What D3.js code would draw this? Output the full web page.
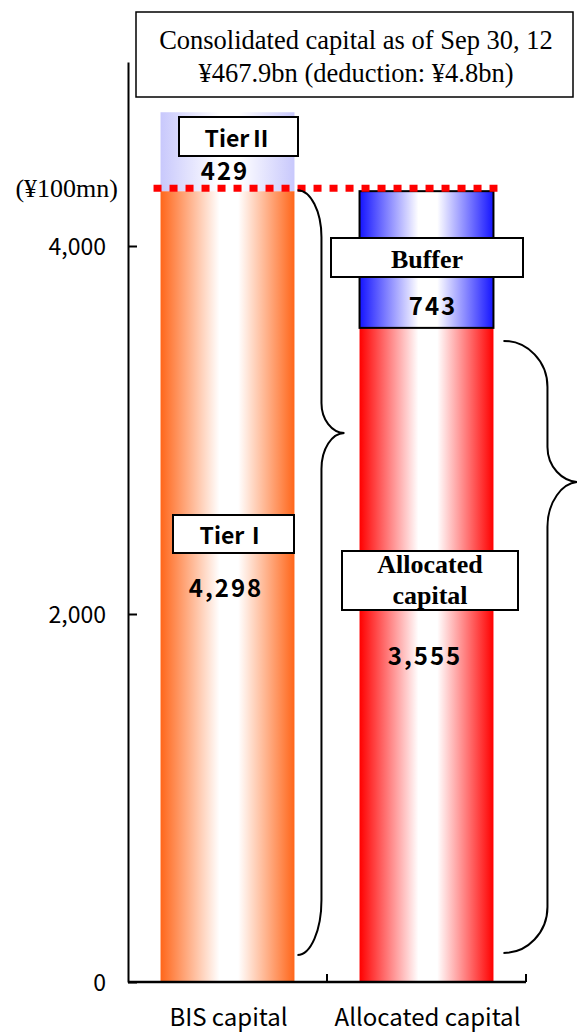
<!DOCTYPE html>
<html><head><meta charset="utf-8">
<script src="https://cdn.jsdelivr.net/npm/d3@7"></script>
<style>
html,body{margin:0;padding:0;background:#fff;}
svg{display:block;}
.goth{font-family:"Noto Sans CJK JP","Noto Sans",sans-serif;}
.serif{font-family:"Liberation Serif","Times New Roman",serif;}
</style></head><body>
<svg id="chart" width="577" height="1032"></svg>
<script>
// Capital composition (unit: ¥100mn)
const categories = ["BIS capital", "Allocated capital"];
const bisNames = ["TierⅠ", "TierⅡ"];
const bisValues = [4298, 429];
const allocNames = ["Allocated capital", "Buffer"];
const allocValues = [3555, 743];
const yTicks = [0, 2000, 4000];
const yMax = 5000;
const unitLabel = "(¥100mn)";
const titleLines = ["Consolidated capital as of Sep 30, 12", "¥467.9bn (deduction: ¥4.8bn)"];

const svg = d3.select("#chart");

const x = d3.scaleBand().domain(categories).range([128, 526])
  .paddingInner(0.327).paddingOuter(0.1635);
const y = d3.scaleLinear().domain([0, yMax]).range([982, 62]);
const bw = x.bandwidth();

// gradient fills: saturated edges fading to white in the middle
const fills = {
  "TierⅠ": "#ff661a",
  "TierⅡ": "#c8c8fc",
  "Allocated capital": "#ff0000",
  "Buffer": "#1414ff"
};
const defs = svg.append("defs");
Object.entries(fills).forEach(([name, col], i) => {
  const g = defs.append("linearGradient").attr("id", "g" + i)
    .attr("x1", "0%").attr("x2", "100%").attr("y1", "0%").attr("y2", "0%");
  g.append("stop").attr("offset", "0%").attr("stop-color", col);
  g.append("stop").attr("offset", "44%").attr("stop-color", "#fff");
  g.append("stop").attr("offset", "58%").attr("stop-color", "#fff");
  g.append("stop").attr("offset", "100%").attr("stop-color", col);
});
const gradId = name => "url(#g" + Object.keys(fills).indexOf(name) + ")";

// stacked segments
const segments = categories.flatMap((cat, i) => {
  const names = i === 0 ? bisNames : allocNames;
  const vals = i === 0 ? bisValues : allocValues;
  let acc = 0;
  return vals.map((v, j) => ({ cat, name: names[j], v, y0: acc, y1: (acc += v) }));
});

// title box
const title = svg.append("g");
title.append("rect").attr("x", 136).attr("y", 12).attr("width", 437).attr("height", 85)
  .attr("fill", "#fff").attr("stroke", "#000").attr("stroke-width", 1.5);
title.selectAll("text").data(titleLines).join("text")
  .attr("class", "serif").attr("x", 356).attr("y", (d, i) => 49 + i * 33)
  .attr("text-anchor", "middle").attr("font-size", 26.5).attr("fill", "#000").text(d => d);

// bars
svg.append("g").selectAll("rect").data(segments).join("rect")
  .attr("x", d => x(d.cat)).attr("width", bw)
  .attr("y", d => y(d.y1)).attr("height", d => y(d.y0) - y(d.y1))
  .attr("fill", d => gradId(d.name))
  .attr("stroke", d => d.name === "Buffer" ? "#000" : "none")
  .attr("stroke-width", 2);

// y axis
const yAxis = svg.append("g").attr("transform", "translate(128,0)")
  .call(d3.axisLeft(y).tickValues(yTicks).tickSizeInner(-9).tickSizeOuter(0)
    .tickPadding(22).tickFormat(d3.format(",")));
yAxis.select(".domain").attr("stroke", "#000").attr("stroke-width", 2);
yAxis.selectAll(".tick line").attr("stroke", "#000").attr("stroke-width", 2);
yAxis.selectAll(".tick text").attr("class", "goth").attr("font-size", 23)
  .attr("fill", "#000").attr("dy", "0.36em");

svg.append("text").attr("class", "serif").attr("x", 118).attr("y", 197)
  .attr("text-anchor", "end").attr("font-size", 26).attr("fill", "#000").text(unitLabel);

// x axis with boundary ticks
const x0 = x.range()[0], x1 = x.range()[1];
const xa = svg.append("g");
xa.append("line").attr("x1", x0).attr("x2", x1).attr("y1", y(0)).attr("y2", y(0))
  .attr("stroke", "#000").attr("stroke-width", 2.5);
const midTick = x(categories[0]) + bw + (x(categories[1]) - x(categories[0]) - bw) / 2;
xa.selectAll("line.t").data([midTick, x1])
  .join("line").attr("class", "t")
  .attr("x1", d => d).attr("x2", d => d).attr("y1", y(0)).attr("y2", y(0) - 8)
  .attr("stroke", "#000").attr("stroke-width", 2);
xa.selectAll("text").data(categories).join("text")
  .attr("class", "goth").attr("x", d => x(d) + bw / 2 + 1).attr("y", 1026)
  .attr("text-anchor", "middle").attr("font-size", 24).attr("fill", "#000").text(d => d);

// total-level dotted line
const totalY = y(bisValues[0]) - 3;
svg.append("line")
  .attr("x1", x(categories[0]) - 7).attr("x2", x(categories[1]) + bw + 4)
  .attr("y1", totalY).attr("y2", totalY)
  .attr("stroke", "#ff0000").attr("stroke-width", 7).attr("stroke-dasharray", "8,8");

// curly braces
function brace(xs, xv, xt, ya, yb, yt, hTop, hMid1, hMid2, hBot) {
  const k = 0.55;
  return [
    `M${xs},${ya}`,
    `C${xs + k * (xv - xs)},${ya} ${xv},${ya + hTop - k * hTop} ${xv},${ya + hTop}`,
    `L${xv},${yt - hMid1}`,
    `C${xv},${yt - hMid1 + k * hMid1} ${xt - k * (xt - xv)},${yt} ${xt},${yt}`,
    `C${xt - k * (xt - xv)},${yt} ${xv},${yt + hMid2 - k * hMid2} ${xv},${yt + hMid2}`,
    `L${xv},${yb - hBot}`,
    `C${xv},${yb - hBot + k * hBot} ${xs + k * (xv - xs)},${yb} ${xs},${yb}`
  ].join(" ");
}
const bRight0 = x(categories[0]) + bw, bRight1 = x(categories[1]) + bw;
const braces = svg.append("g").attr("fill", "none").attr("stroke", "#000").attr("stroke-width", 2);
braces.append("path").attr("d",
  brace(bRight0 + 3, bRight0 + 27, bRight0 + 50, y(bisValues[0]) - 1, y(0) - 27, 433, 47, 30, 36, 55));
braces.append("path").attr("d",
  brace(bRight1 + 10, bRight1 + 54, bRight1 + 86, y(allocValues[0]) + 13, y(0) - 29, 482, 46, 35, 45, 46));

// segment name boxes
const boxes = [
  { name: "TierⅡ", lines: ["TierⅡ"], font: "goth", x: 179, y: 117, w: 119, h: 39 },
  { name: "TierⅠ", lines: ["TierⅠ"], font: "goth", x: 173, y: 515, w: 121, h: 38 },
  { name: "Buffer", lines: ["Buffer"], font: "serif", x: 331, y: 238, w: 192, h: 39 },
  { name: "Allocated capital", lines: ["Allocated", "capital"], font: "serif", x: 342, y: 551, w: 176, h: 59 }
];
const bg = svg.append("g");
boxes.forEach(b => {
  bg.append("rect").attr("x", b.x).attr("y", b.y).attr("width", b.w).attr("height", b.h)
    .attr("fill", "#fff").attr("stroke", "#000").attr("stroke-width", 2);
  const n = b.lines.length;
  b.lines.forEach((t, i) => {
    bg.append("text").attr("class", b.font)
      .attr("x", b.x + b.w / 2)
      .attr("y", n === 1 ? b.y + b.h / 2 + 10 : b.y + 22 + i * 31)
      .attr("text-anchor", "middle").attr("font-size", b.font === "goth" ? 23 : 26)
      .attr("font-weight", "bold").attr("fill", "#000").text(t);
  });
});

// segment values
const valuePos = { "TierⅡ": [225, 180], "TierⅠ": [226, 597], "Buffer": [433, 315], "Allocated capital": [425, 665] };
svg.append("g").selectAll("text").data(segments).join("text")
  .attr("class", "goth").attr("x", d => valuePos[d.name][0]).attr("y", d => valuePos[d.name][1])
  .attr("text-anchor", "middle").attr("font-size", 24).attr("font-weight", "bold")
  .attr("letter-spacing", 2).attr("fill", "#000")
  .text(d => d3.format(",")(d.v));
</script>
</body></html>
